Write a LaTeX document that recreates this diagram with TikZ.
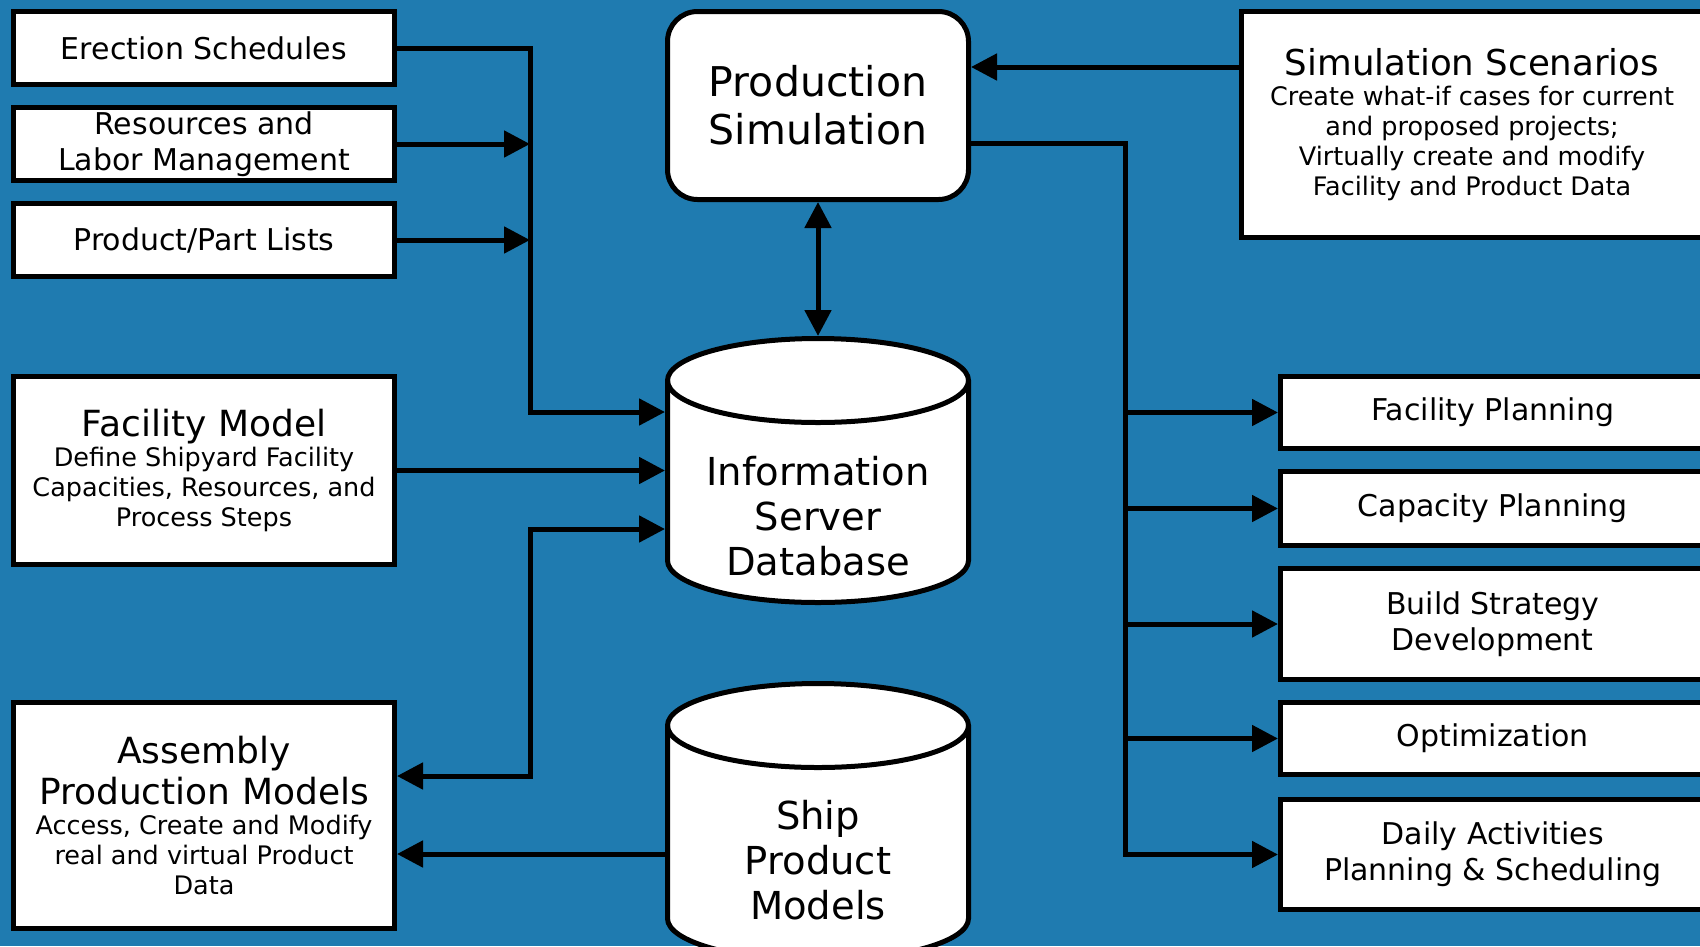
\documentclass[tikz,border=0pt]{standalone}
\usepackage{fontspec}
\setmainfont{DejaVu Sans}
\usetikzlibrary{arrows.meta}
\definecolor{bgblue}{RGB}{31,123,176}
\newcommand{\boxfont}{\fontsize{30}{36}\selectfont}
\newcommand{\headfont}{\fontsize{36}{41}\selectfont}
\newcommand{\notefont}{\fontsize{25.5}{30}\selectfont}
\newcommand{\dbfont}{\fontsize{38.5}{45}\selectfont}
\newcommand{\simfont}{\fontsize{41}{48}\selectfont}
\begin{document}
\begin{tikzpicture}[x=1pt,y=1pt,>={Triangle[length=26pt,width=26pt]},
  card/.style={draw,fill=white,line width=5pt,align=center,inner sep=0pt,font=\boxfont},
  db/.style={minimum width=306pt,inner sep=0pt,outer sep=0pt},
  dbline/.style={draw,fill=white,line width=5pt},
  link/.style={line width=5pt}]
% background
\fill[bgblue] (0,0) rectangle (1700,-946);
\clip (0,0) rectangle (1700,-946);

% left column
\node[card,minimum width=381pt,minimum height=73pt] (es) at (204,-48) {Erection Schedules};
\node[card,minimum width=381pt,minimum height=73pt] (rlm) at (204,-144) {Resources and\\Labor Management};
\node[card,minimum width=381pt,minimum height=73pt] (ppl) at (204,-240) {Product/Part Lists};
\node[card,minimum width=381pt,minimum height=188pt,font=\notefont] (fm) at (204,-470.5)
  {{\headfont Facility Model}\\Define Shipyard Facility\\Capacities, Resources, and\\Process Steps};
\node[card,minimum width=381pt,minimum height=226pt,font=\notefont] (apm) at (204,-815.5)
  {{\headfont Assembly}\\[6pt]{\headfont Production Models}\\Access, Create and Modify\\real and virtual Product\\Data};

% middle column
\node[card,rounded corners=30pt,minimum width=301pt,minimum height=188pt,font=\simfont] (ps) at (818,-105.5)
  {Production\\Simulation};

% information server (cylinder, ellipse radii 150.5 x 42)
\node[db,minimum height=269pt] (isd) at (818,-470.5) {};
\path[dbline] ([xshift=2.5pt,yshift=-44.5pt]isd.north west) -- ([xshift=2.5pt,yshift=44.5pt]isd.south west)
  arc[start angle=180,end angle=360,x radius=150.5,y radius=42]
  -- ([xshift=-2.5pt,yshift=-44.5pt]isd.north east)
  arc[start angle=0,end angle=180,x radius=150.5,y radius=42] -- cycle;
\draw[line width=5pt] ([xshift=2.5pt,yshift=-44.5pt]isd.north west)
  arc[start angle=180,end angle=360,x radius=150.5,y radius=42];
\node[font=\dbfont,align=center] (isdtxt) at (818,-516) {Information\\Server\\Database};

% ship product models
\node[db,minimum height=282pt] (spm) at (818,-822) {};
\path[dbline] ([xshift=2.5pt,yshift=-44.5pt]spm.north west) -- ([xshift=2.5pt,yshift=44.5pt]spm.south west)
  arc[start angle=180,end angle=360,x radius=150.5,y radius=42]
  -- ([xshift=-2.5pt,yshift=-44.5pt]spm.north east)
  arc[start angle=0,end angle=180,x radius=150.5,y radius=42] -- cycle;
\draw[line width=5pt] ([xshift=2.5pt,yshift=-44.5pt]spm.north west)
  arc[start angle=180,end angle=360,x radius=150.5,y radius=42];
\node[font=\dbfont,align=center] (spmtxt) at (818,-860) {Ship\\Product\\Models};

% right column
\node[card,minimum width=461pt,minimum height=226pt,font=\notefont] (ss) at (1472,-124.5)
  {{\fontsize{35.6}{41}\selectfont Simulation Scenarios}\\Create what-if cases for current\\and proposed projects;\\Virtually create and modify\\Facility and Product Data};
\node[card,minimum width=424.5pt,minimum height=72pt] (fp) at (1492.75,-412.5) {Facility Planning};
\node[card,minimum width=424.5pt,minimum height=74pt] (cp) at (1492.75,-508.5) {Capacity Planning};
\node[card,minimum width=424.5pt,minimum height=111pt] (bsd) at (1492.75,-624) {Build Strategy\\Development};
\node[card,minimum width=424.5pt,minimum height=72pt] (opt) at (1492.75,-738.5) {Optimization};
\node[card,minimum width=424.5pt,minimum height=110pt] (dap) at (1492.75,-854.5) {Daily Activities\\Planning \& Scheduling};

% junction points
\coordinate (lbus) at (530,-412);
\coordinate (lk) at (530,-529);
\coordinate (lj) at (530,-776);
\coordinate (rbus) at (1125,-143);

% inputs into the database
\draw[link,->] (es.east) -| (lbus) -- (lbus -| isd.west);
\draw[link,->] (rlm.east) -- (rlm.east -| lbus);
\draw[link,->] (ppl.east) -- (ppl.east -| lbus);
\draw[link,->] (fm.east) -- (fm.east -| isd.west);
\draw[link,<->] (lj -| apm.east) -- (lj) -- (lk) -- (lk -| isd.west);
\draw[link,->] ([yshift=-32pt]spm.west) -- ([yshift=-32pt]spm.west -| apm.east);

% simulation
\draw[link,<->] (ps.south) -- (isd.north);
\draw[link,->] (ss.west |- 0,-67) -- (ps.east |- 0,-67);
\draw[link,->] (ps.east |- rbus) -- (rbus) |- (dap.west);
\draw[link,->] (rbus |- fp.west) -- (fp.west);
\draw[link,->] (rbus |- cp.west) -- (cp.west);
\draw[link,->] (rbus |- bsd.west) -- (bsd.west);
\draw[link,->] (rbus |- opt.west) -- (opt.west);
\end{tikzpicture}
\end{document}
